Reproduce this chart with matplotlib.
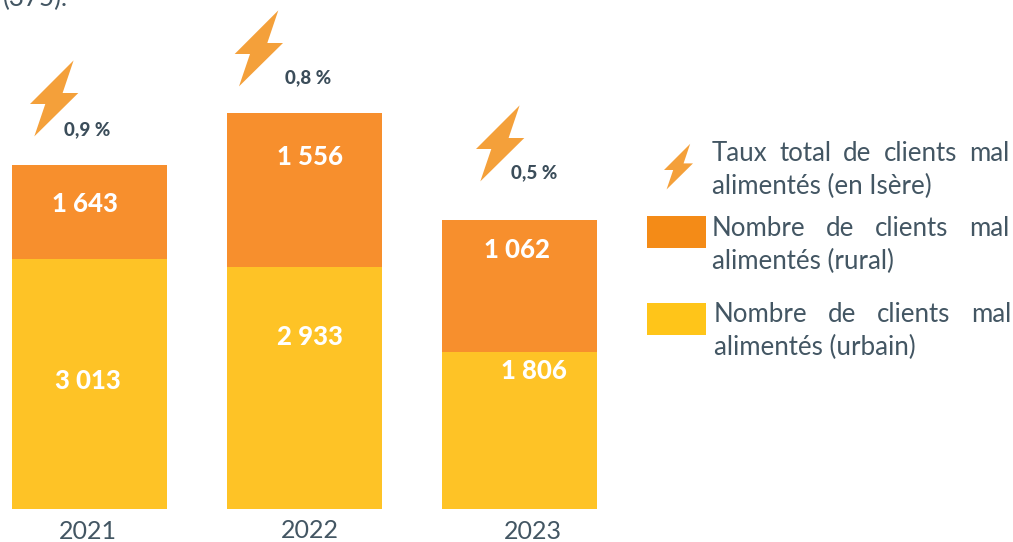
# Clients mal alimentes: stacked bars, drawn heights as in the source picture (not proportional to labels)
import matplotlib
matplotlib.use("Agg")
import matplotlib.pyplot as plt
from matplotlib.patches import PathPatch, Rectangle
from matplotlib.path import Path

W, H = 1013, 542

years = ["2021", "2022", "2023"]
urbain_labels = ["3 013", "2 933", "1 806"]
rural_labels = ["1 643", "1 556", "1 062"]
taux_labels = ["0,9 %", "0,8 %", "0,5 %"]
# the source bars do not follow their labels, so heights are read off the picture
urbain_drawn = [250, 242, 157]
rural_drawn = [94, 154, 132]

ORANGE = "#F78F2D"
YELLOW = "#FEC326"
LEG_ORANGE = "#F48B17"
LEG_YELLOW = "#FFC519"
BOLT = "#F4A03A"
TEXT = "#435663"
DARK = "#3B4D5A"
LEG_SIZE = 18.6

plt.rcParams["font.family"] = ["Lato", "DejaVu Sans"]

fig = plt.figure(figsize=(W / 100, H / 100), dpi=100)
fig.patch.set_facecolor("white")


def px(x, y):
    return x / W, 1 - y / H


ax = fig.add_axes([0, 0, 1, 1])
ax.set_xlim(-89.5 / 215, (W - 89.5) / 215)
ax.set_ylim(-(H - 509), 509)
ax.axis("off")

xs = range(len(years))
ax.bar(xs, urbain_drawn, width=155 / 215, color=YELLOW)
ax.bar(xs, rural_drawn, width=155 / 215, bottom=urbain_drawn, color=ORANGE)


def bolt(x0, y0, scale=1.0):
    # outline relative to the left corner of the flash, in pixels
    shape = [(43.6, -43.6), (32.6, -11), (48.3, -11), (4.3, 32.4), (15.3, 0), (0, 0), (43.6, -43.6)]
    verts = [px(x0 + sx * scale, y0 + sy * scale) for sx, sy in shape]
    fig.add_artist(PathPatch(Path(verts), facecolor=BOLT, edgecolor="none",
                             transform=fig.transFigure))


def justified(words, x0, x1, y):
    # spread the words over the line width, like the justified text of the source
    r = fig.canvas.get_renderer()
    items = [fig.text(*px(x0, y), w, fontsize=LEG_SIZE, color=TEXT, va="center") for w in words]
    widths = [t.get_window_extent(r).width for t in items]
    gap = (x1 - x0 - sum(widths)) / (len(words) - 1)
    x = x0
    for t, w in zip(items, widths):
        t.set_position(px(x, y))
        x += w + gap


# value labels
urbain_pos = [(88, 381), (310, 337), (534, 371)]
rural_pos = [(85, 204), (310, 157), (517, 250)]
for (x, y), s in zip(urbain_pos + rural_pos, urbain_labels + rural_labels):
    fig.text(*px(x, y), s, fontsize=18.5, fontweight="black", color="white",
             ha="center", va="center")

# flashes and rates
bolt_pos = [(30, 104), (234.7, 54), (476, 149)]
taux_pos = [(87, 130), (308, 78), (534, 173)]
for x, y in bolt_pos:
    bolt(x, y)
for (x, y), s in zip(taux_pos, taux_labels):
    fig.text(*px(x, y), s, fontsize=13.5, fontweight="black", color=DARK,
             ha="center", va="center")

# years
year_pos = [(88, 539), (310, 537.5), (533, 539)]
for (x, y), s in zip(year_pos, years):
    fig.text(*px(x, y), s, fontsize=18, color=TEXT, ha="center", va="baseline")

# legend
bolt(664, 170, scale=0.6)
for y, c in [(216, LEG_ORANGE), (303, LEG_YELLOW)]:
    fig.add_artist(Rectangle(px(647, y + 32), 59 / W, 32 / H, facecolor=c, edgecolor="none",
                             transform=fig.transFigure))
justified(["Taux", "total", "de", "clients", "mal"], 712, 1009, 154)
fig.text(*px(712, 186), "alimentés (en Isère)", fontsize=LEG_SIZE, color=TEXT, va="center")
justified(["Nombre", "de", "clients", "mal"], 712, 1009, 229)
fig.text(*px(712, 261), "alimentés (rural)", fontsize=LEG_SIZE, color=TEXT, va="center")
justified(["Nombre", "de", "clients", "mal"], 714, 1011, 315)
fig.text(*px(714, 347), "alimentés (urbain)", fontsize=LEG_SIZE, color=TEXT, va="center")

# tail of the sentence cut by the top edge of the source
fig.text(*px(3, 6), "(375).", fontsize=LEG_SIZE, color=TEXT, va="baseline")

fig.savefig("out.png", dpi=100)
